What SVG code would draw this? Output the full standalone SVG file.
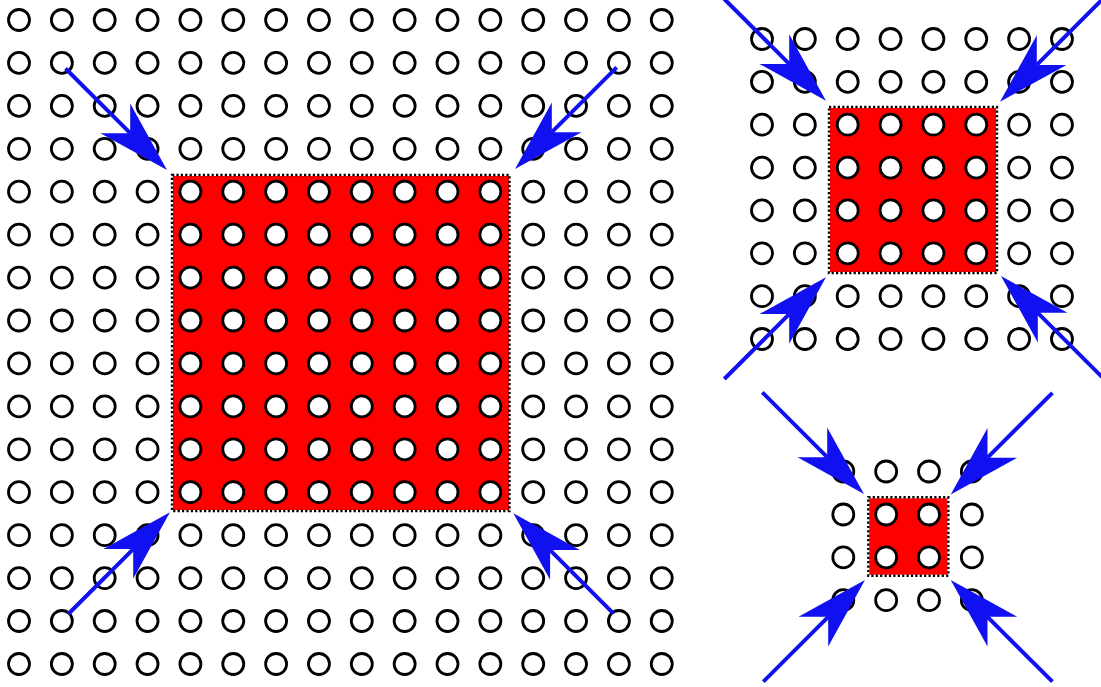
<svg xmlns="http://www.w3.org/2000/svg" xmlns:xlink="http://www.w3.org/1999/xlink" width="1101" height="687" viewBox="0 0 1101 687">
<style>
.c{fill:#fff;stroke:#000;stroke-width:2.8}
.sq{fill:#ff0000;stroke:none}
.bd{fill:none;stroke:#000;stroke-width:2.4;stroke-dasharray:2.2 2.2}
.ar{stroke:#1010f0;stroke-width:4;fill:none;marker-end:url(#head)}
</style>
<defs>
<marker id="head" markerUnits="userSpaceOnUse" orient="auto" refX="0" refY="0" markerWidth="80" markerHeight="50" overflow="visible">
<path d="M52,0 L-21,-21 L0,0 L-21,21 Z" fill="#1010f0"/>
</marker>
<g id="r4">
<circle class="c" cx="0" cy="0" r="10.5"/>
<circle class="c" cx="42.85" cy="0" r="10.5"/>
<circle class="c" cx="85.7" cy="0" r="10.5"/>
<circle class="c" cx="128.55" cy="0" r="10.5"/>
</g>
<g id="r8"><use xlink:href="#r4"/><use xlink:href="#r4" x="171.4"/></g>
<g id="r16"><use xlink:href="#r8"/><use xlink:href="#r8" x="342.8"/></g>
</defs>
<rect width="1101" height="687" fill="#fff"/>
<g id="panel-large">
<rect class="sq" x="173" y="176" width="336" height="334"/>
<g transform="translate(19,0)">
<use xlink:href="#r16" y="20"/>
<use xlink:href="#r16" y="62.9"/>
<use xlink:href="#r16" y="105.9"/>
<use xlink:href="#r16" y="148.8"/>
<use xlink:href="#r16" y="191.7"/>
<use xlink:href="#r16" y="234.7"/>
<use xlink:href="#r16" y="277.6"/>
<use xlink:href="#r16" y="320.5"/>
<use xlink:href="#r16" y="363.4"/>
<use xlink:href="#r16" y="406.4"/>
<use xlink:href="#r16" y="449.3"/>
<use xlink:href="#r16" y="492.2"/>
<use xlink:href="#r16" y="535.2"/>
<use xlink:href="#r16" y="578.1"/>
<use xlink:href="#r16" y="621"/>
<use xlink:href="#r16" y="664"/>
</g>
<rect class="bd" x="172" y="175" width="337.5" height="336"/>
</g>
<g id="panel-medium">
<rect class="sq" x="830" y="108" width="166" height="164"/>
<g transform="translate(762,0)">
<use xlink:href="#r8" y="39"/>
<use xlink:href="#r8" y="81.9"/>
<use xlink:href="#r8" y="124.7"/>
<use xlink:href="#r8" y="167.6"/>
<use xlink:href="#r8" y="210.4"/>
<use xlink:href="#r8" y="253.3"/>
<use xlink:href="#r8" y="296.2"/>
<use xlink:href="#r8" y="339"/>
</g>
<rect class="bd" x="829" y="107" width="168" height="166"/>
</g>
<g id="panel-small">
<rect class="sq" x="869.3" y="498.3" width="78" height="76.4"/>
<g transform="translate(843.3,0)">
<use xlink:href="#r4" y="471.5"/>
<use xlink:href="#r4" y="514.5"/>
<use xlink:href="#r4" y="557.3"/>
<use xlink:href="#r4" y="600.2"/>
</g>
<rect class="bd" x="868.3" y="497.3" width="80" height="78.4"/>
</g>
<g id="connectors">
<path class="ar" d="M65.5,68.5 L130.2,133.2"/>
<path class="ar" d="M616.7,67.3 L551.8,132.2"/>
<path class="ar" d="M68.3,614 L133.2,549.1"/>
<path class="ar" d="M613.3,613.3 L550.1,550.1"/>
<path class="ar" d="M724.3,-1 L789.2,63.9"/>
<path class="ar" d="M1101.7,0 L1036.8,64.9"/>
<path class="ar" d="M724.3,379 L789.2,314.1"/>
<path class="ar" d="M1102.7,377.7 L1037.8,312.8"/>
<path class="ar" d="M762.3,392.3 L827.2,457.2"/>
<path class="ar" d="M1052.4,392.8 L987.5,457.7"/>
<path class="ar" d="M763.3,681.7 L828.2,616.8"/>
<path class="ar" d="M1052.4,681.7 L987.5,616.8"/>
</g>
</svg>
